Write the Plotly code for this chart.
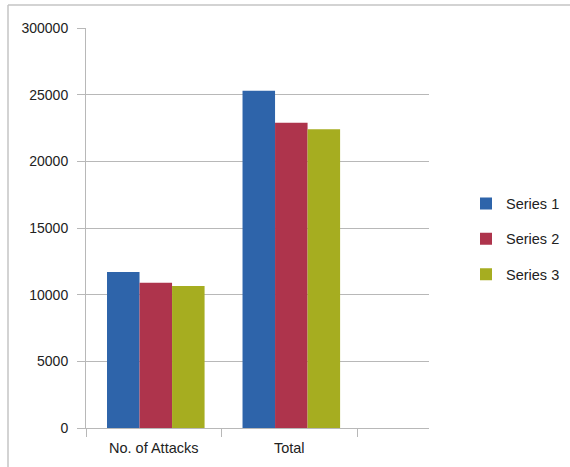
import plotly.graph_objects as go

categories = ["No. of Attacks", "Total"]
series_names = ["Series 1", "Series 2", "Series 3"]
series1 = [11700, 25300]
series2 = [10900, 22900]
series3 = [10650, 22400]
y_tickvals = [0, 5000, 10000, 15000, 20000, 25000, 30000]
y_ticktext = ["0", "5000", "10000", "15000", "20000", "25000", "300000"]

colors = ["#2e64aa", "#ae344c", "#a6ad20"]
W, H = 570, 467
L, R, T, B = 86, 429, 28, 428
BAR_W = 0.24

fig = go.Figure()
for i, (name, vals) in enumerate(zip(series_names, [series1, series2, series3])):
    fig.add_trace(go.Bar(
        x=categories, y=vals, name=name, marker_color=colors[i],
        marker_line_width=0, legendgroup=f"g{i}",
        width=BAR_W, offset=-0.345 + i * BAR_W,
    ))

grid = "#b8b8b8"
fig.update_layout(
    width=W, height=H, autosize=False,
    margin=dict(l=L, r=W - R, t=T, b=H - B, pad=0, autoexpand=False),
    paper_bgcolor="white", plot_bgcolor="white",
    barmode="overlay",
    font=dict(family="Liberation Sans, Arial, sans-serif", size=14, color="#222222"),
    legend=dict(
        xref="container", yref="container",
        x=466 / W, y=(H - 239) / H, xanchor="left", yanchor="middle",
        font=dict(size=14.5, color="#222222"), tracegroupgap=13.5,
        itemwidth=30, bgcolor="rgba(0,0,0,0)",
    ),
    xaxis=dict(
        type="category", range=[-0.5, 2.031], tickson="boundaries",
        ticks="outside", ticklen=8, tickcolor=grid, showline=True,
        linecolor=grid, linewidth=1, showgrid=False, zeroline=False,
        tickfont=dict(size=14.5, color="#222222"), ticklabelstandoff=7,
    ),
    yaxis=dict(
        range=[0, 30000], tickmode="array", tickvals=y_tickvals, ticktext=y_ticktext,
        ticks="outside", ticklen=8, tickcolor=grid, showline=True, linecolor=grid,
        linewidth=1, showgrid=True, gridcolor=grid, gridwidth=1, zeroline=False,
        tickfont=dict(size=14, color="#222222"), ticklabelstandoff=6,
    ),
    showlegend=True,
)

def px_x(p):
    return (p - L) / (R - L)

def px_y(p):
    return (B - p) / (B - T)

frame = "#c4c4c4"
fig.add_shape(type="line", xref="paper", yref="paper",
              x0=px_x(8), x1=px_x(570), y0=px_y(5), y1=px_y(5),
              line=dict(color=frame, width=1.5))
fig.add_shape(type="line", xref="paper", yref="paper",
              x0=px_x(8), x1=px_x(8), y0=px_y(5), y1=px_y(467),
              line=dict(color=frame, width=1.5))

fig.write_html("out.html")
